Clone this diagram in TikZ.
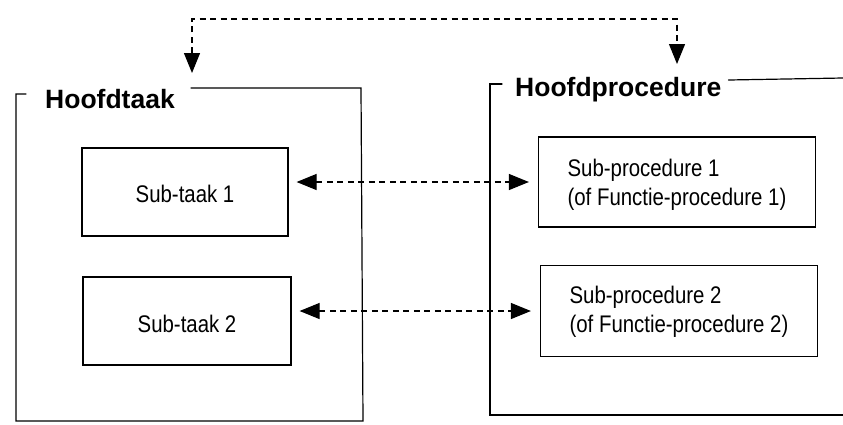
\documentclass[tikz,border=0pt]{standalone}
\usepackage{fontspec}
\setmainfont{Liberation Sans}
\newfontfamily\narrowsans[FakeStretch=0.85]{Liberation Sans}
\usetikzlibrary{arrows.meta}

\tikzset{
  frameline/.style={line width=1.2pt, line cap=round, line join=miter},
  subbox/.style={draw, line width=1.2pt, rectangle, inner sep=0pt},
  boxtext/.style={inner sep=0pt, align=left,
    font=\narrowsans\fontsize{24}{29}\selectfont},
  maintitle/.style={font=\bfseries\fontsize{26.5}{30}\selectfont, inner sep=0pt, anchor=base west},
  bigtip/.tip={Triangle[length=20pt,width=16pt]},
  link/.style={line width=1.2pt, dash pattern=on 6pt off 4.5pt,
    bigtip-bigtip, shorten <=8pt, shorten >=9pt},
  toplink/.style={line width=1.2pt, dash pattern=on 6pt off 4.5pt, bigtip-bigtip}
}

\begin{document}
\begin{tikzpicture}[x=1pt, y=-1pt]
  \useasboundingbox (0,0) rectangle (843,424);

  % titles of the two containers
  \node[maintitle] (hoofdtaak) at (45,108) {Hoofdtaak};
  \node[maintitle] (hoofdproc) at (515,96) {Hoofdprocedure};

  % left container
  \draw[frameline] (26,94) -- (16,94) -- (16,421) -- (363,421) -- (361,88)
    -- ([xshift=16pt]hoofdtaak.east |- 0,88);
  % right container (runs off the right edge)
  \draw[frameline] (502,84) -- (490,84) -- (490,415) -- (843,415);
  \draw[frameline] ([xshift=7pt]hoofdproc.east |- 0,80) -- (843,78);

  % inner boxes
  \node[subbox, minimum width=206pt, minimum height=88pt] (st1) at (185,192) {};
  \node[subbox, minimum width=208pt, minimum height=88pt] (st2) at (187,321) {};
  \node[subbox, minimum width=277pt, minimum height=90pt] (sp1) at (677,182) {};
  \node[subbox, minimum width=277pt, minimum height=91pt] (sp2) at (679,311) {};

  % their texts (yshift is measured upwards on the page)
  \node[boxtext] (st1text) at ([yshift=-2pt]st1.center) {Sub-taak 1};
  \node[boxtext] (st2text) at ([yshift=-3pt]st2.center) {Sub-taak 2};
  \node[boxtext] (sp1text) at ([yshift=-3pt]sp1.center)
    {Sub-procedure 1\\(of Functie-procedure 1)};
  \node[boxtext] (sp2text) at ([yshift=-1pt]sp2.center)
    {Sub-procedure 2\\(of Functie-procedure 2)};

  % links between tasks and procedures
  \draw[link] (st1.east |- sp1.west) -- (sp1.west);
  \draw[link] (st2.east |- sp2.west) -- (sp2.west);

  % link between the two main titles
  \coordinate (taaktip) at (192,73);
  \coordinate (proctip) at (677,64);
  \draw[toplink] (taaktip) -- (taaktip |- 0,19) -- (proctip |- 0,19) -- (proctip);
\end{tikzpicture}
\end{document}
